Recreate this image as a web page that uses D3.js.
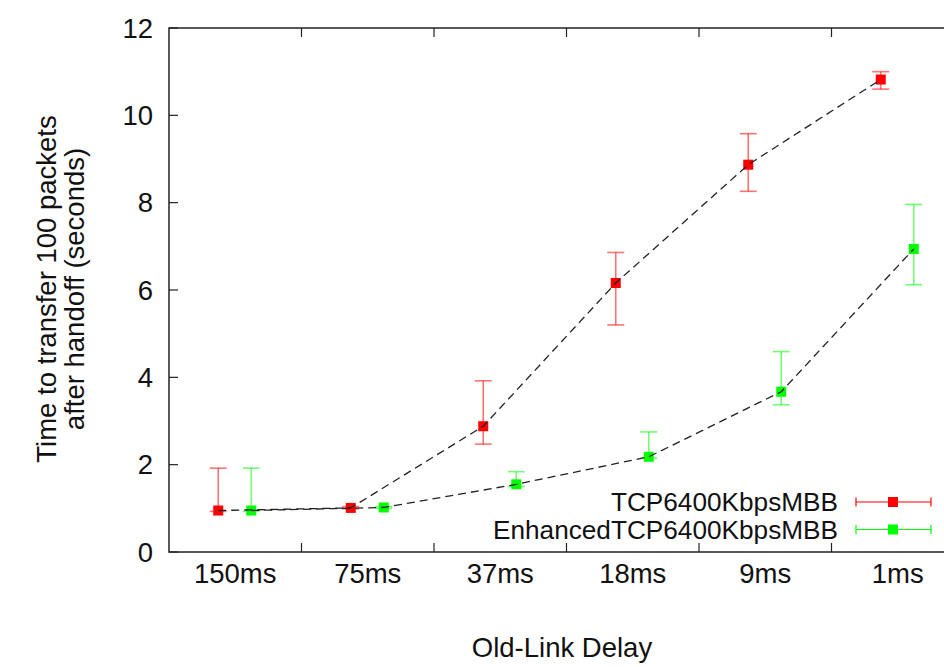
<!DOCTYPE html>
<html>
<head>
<meta charset="utf-8">
<script src="https://cdn.jsdelivr.net/npm/d3@7"></script>
<style>
  body { margin: 0; background: #fff; }
  svg text { font-family: "Liberation Sans", Arial, sans-serif; fill: #111; }
</style>
</head>
<body>
<div id="chart"></div>
<script>
var width = 944;
var height = 667;

// data
var categories = ["150ms", "75ms", "37ms", "18ms", "9ms", "1ms"];
var seriesNames = ["TCP6400KbpsMBB", "EnhancedTCP6400KbpsMBB"];
var seriesColors = ["#ff0000", "#00ff00"];
var tcpMean = [0.95, 1.01, 2.88, 6.16, 8.87, 10.82];
var tcpLow  = [0.93, 0.99, 2.47, 5.20, 8.26, 10.60];
var tcpHigh = [1.92, 1.04, 3.92, 6.86, 9.58, 11.00];
var enhMean = [0.95, 1.02, 1.55, 2.18, 3.67, 6.94];
var enhLow  = [0.93, 1.00, 1.50, 2.15, 3.37, 6.12];
var enhHigh = [1.92, 1.04, 1.84, 2.75, 4.59, 7.96];
var yTicks = [0, 2, 4, 6, 8, 10, 12];

var series = [
  { name: seriesNames[0], color: seriesColors[0], mean: tcpMean, low: tcpLow, high: tcpHigh },
  { name: seriesNames[1], color: seriesColors[1], mean: enhMean, low: enhLow, high: enhHigh }
];

// plot box (right edge falls outside the picture)
var plotLeft = 169, plotRight = 964, plotTop = 28, plotBottom = 552;
var fs = "27.5px";

var svg = d3.select("#chart").append("svg")
    .attr("width", width)
    .attr("height", height);

var x = d3.scaleBand().domain(categories).range([plotLeft, plotRight]).paddingInner(0).paddingOuter(0);
var xOff = d3.scalePoint().domain(seriesNames).range([-17, 16]);
var y = d3.scaleLinear().domain([0, 12]).range([plotBottom, plotTop]);

function px(s, i) { return x(categories[i]) + x.bandwidth() / 2 + xOff(s.name); }

// border
svg.append("rect")
  .attr("x", plotLeft).attr("y", plotTop)
  .attr("width", plotRight - plotLeft).attr("height", plotBottom - plotTop)
  .style("fill", "none").style("stroke", "#222").style("stroke-width", 1.5);

// y ticks
var tickLen = 9;
yTicks.forEach(function(t){
  svg.append("line")
    .attr("x1", plotLeft).attr("x2", plotLeft + tickLen)
    .attr("y1", y(t)).attr("y2", y(t))
    .style("stroke", "#222").style("stroke-width", 1.2);
  svg.append("text")
    .attr("x", 153).attr("y", y(t))
    .attr("dy", "0.35em")
    .attr("text-anchor", "end")
    .style("font-size", fs)
    .text(t);
});

// x ticks between categories, bottom and top
categories.forEach(function(c, i){
  if (i > 0) {
    var xx = x(c);
    svg.append("line").attr("x1", xx).attr("x2", xx).attr("y1", plotBottom).attr("y2", plotBottom - tickLen)
      .style("stroke", "#222").style("stroke-width", 1.2);
    svg.append("line").attr("x1", xx).attr("x2", xx).attr("y1", plotTop).attr("y2", plotTop + tickLen)
      .style("stroke", "#222").style("stroke-width", 1.2);
  }
  svg.append("text")
    .attr("x", x(c) + x.bandwidth() / 2).attr("y", 583)
    .attr("text-anchor", "middle")
    .style("font-size", fs)
    .text(c);
});

// axis labels
svg.append("text")
  .attr("x", 562).attr("y", 657)
  .attr("text-anchor", "middle")
  .style("font-size", fs)
  .text("Old-Link Delay");

var ylab = svg.append("text")
  .attr("transform", "translate(0,289) rotate(-90)")
  .attr("text-anchor", "middle")
  .style("font-size", fs);
ylab.append("tspan").attr("x", 0).attr("y", 56).text("Time to transfer 100 packets");
ylab.append("tspan").attr("x", 0).attr("y", 84).text("after handoff (seconds)");

// error bars and points
var cap = 8.5, sq = 10;
series.forEach(function(s){
  var g = svg.append("g");
  s.mean.forEach(function(m, i){
    var cx = px(s, i);
    var bar = g.append("g").style("stroke", s.color).style("stroke-width", 1.6).style("stroke-opacity", 0.55);
    bar.append("line").attr("x1", cx).attr("x2", cx).attr("y1", y(s.low[i])).attr("y2", y(s.high[i]));
    bar.append("line").attr("x1", cx - cap).attr("x2", cx + cap).attr("y1", y(s.low[i])).attr("y2", y(s.low[i]));
    bar.append("line").attr("x1", cx - cap).attr("x2", cx + cap).attr("y1", y(s.high[i])).attr("y2", y(s.high[i]));
    g.append("rect")
      .attr("x", cx - sq / 2).attr("y", y(m) - sq / 2)
      .attr("width", sq).attr("height", sq)
      .style("fill", s.color);
  });
});

// dashed lines through the means
var line = d3.line()
  .x(function(d){ return d[0]; })
  .y(function(d){ return y(d[1]); });

series.forEach(function(s){
  var pts = s.mean.map(function(m, i){ return [px(s, i), m]; });
  svg.append("path")
    .attr("d", line(pts))
    .style("fill", "none")
    .style("stroke", "#222")
    .style("stroke-width", 1.3)
    .style("stroke-dasharray", "8,5");
});

// legend
series.forEach(function(s, k){
  var ly = 502 + k * 27.5;
  svg.append("text")
    .attr("x", 838).attr("y", ly)
    .attr("dy", "0.35em")
    .attr("text-anchor", "end")
    .style("font-size", "26.2px")
    .text(s.name);
  var lg = svg.append("g").style("stroke", s.color).style("stroke-width", 1.2);
  lg.append("line").attr("x1", 856).attr("x2", 931).attr("y1", ly).attr("y2", ly);
  lg.append("line").attr("x1", 856).attr("x2", 856).attr("y1", ly - 4.5).attr("y2", ly + 4.5);
  lg.append("line").attr("x1", 931).attr("x2", 931).attr("y1", ly - 4.5).attr("y2", ly + 4.5);
  svg.append("rect")
    .attr("x", 893 - sq / 2).attr("y", ly - sq / 2)
    .attr("width", sq).attr("height", sq)
    .style("fill", s.color);
});
</script>
</body>
</html>
